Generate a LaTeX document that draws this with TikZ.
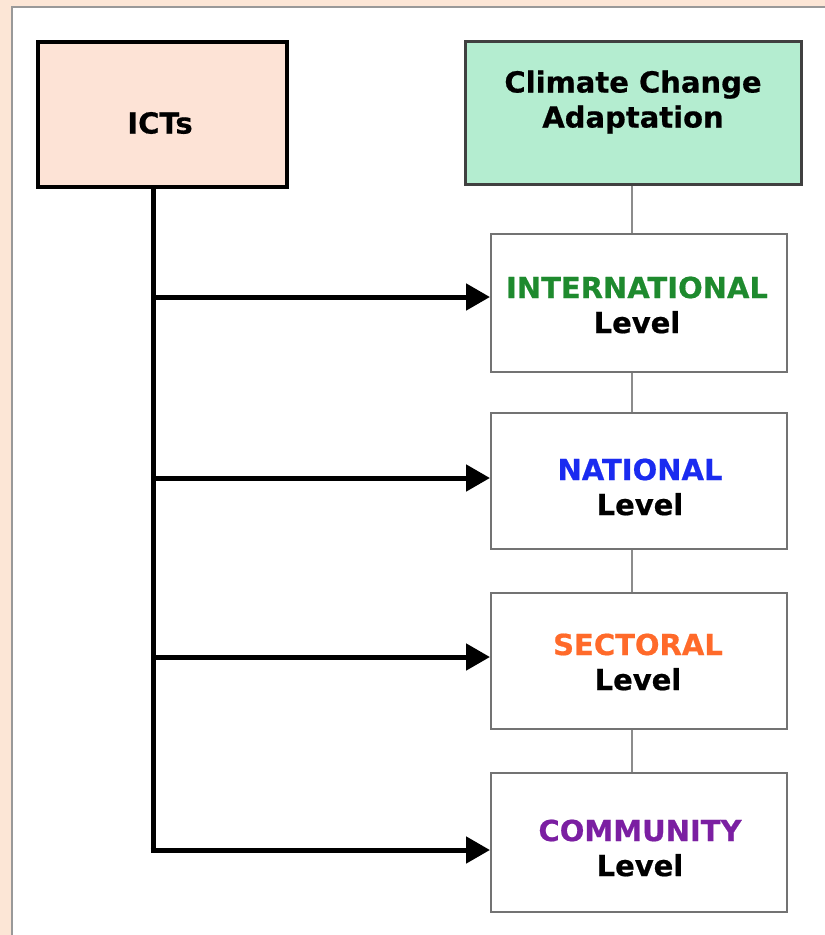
\documentclass[tikz,border=0pt]{standalone}
\usepackage{fontspec}
\setmainfont{DejaVu Sans}[FakeBold=0.6]
\usetikzlibrary{arrows.meta}
\definecolor{peach}{HTML}{FCE6D6}
\definecolor{ictfill}{HTML}{FDE3D6}
\definecolor{ccafill}{HTML}{B4EDD0}
\definecolor{intgreen}{HTML}{1E8A2E}
\definecolor{natblue}{HTML}{1A2BF0}
\definecolor{secorange}{HTML}{FF6A2A}
\definecolor{compurple}{HTML}{7B1FA2}
\tikzset{
  txt/.style={font=\fontsize{29}{35}\selectfont\bfseries, align=center, inner sep=0pt},
  levelbox/.style={draw=black!55, line width=2.2pt, fill=white, minimum width=296pt, minimum height=138pt, inner sep=0pt, anchor=north west},
  feed/.style={line width=5pt, -{Triangle[length=24pt,width=26pt]}},
  link/.style={draw=black!45, line width=2.2pt},
}
\begin{document}
\begin{tikzpicture}[x=1pt,y=-1pt]
\useasboundingbox (0,0) rectangle (825,935);
\fill[peach] (0,0) rectangle (825,935);
\begin{scope}
\clip (0,0) rectangle (825,935);
\draw[black!40, line width=2.5pt, fill=white] (12,7) rectangle (840,950);
\end{scope}
% top boxes
\node[draw=black, line width=3.5pt, fill=ictfill, minimum width=249pt, minimum height=145pt, anchor=north west, inner sep=0pt] (ict) at (36,40) {};
\node[txt] (ictt) at (160,123) {ICTs};
\node[draw=black!75, line width=2.5pt, fill=ccafill, minimum width=336pt, minimum height=143pt, anchor=north west, inner sep=0pt] (cca) at (464,40) {};
\node[txt] (ccat) at (633,102) {Climate Change\\Adaptation};
% level boxes
\node[levelbox] (l1) at (490,233) {};
\node[levelbox, minimum height=136pt] (l2) at (490,412) {};
\node[levelbox, minimum height=136pt] (l3) at (490,592) {};
\node[levelbox, minimum height=139pt] (l4) at (490,772) {};
\node[txt] (t1) at (637,305) {\textcolor{intgreen}{INTERNATIONAL}\\Level};
\node[txt] (t2) at (640,487) {\textcolor{natblue}{NATIONAL}\\Level};
\node[txt] (t3) at (638,662) {\textcolor{secorange}{SECTORAL}\\Level};
\node[txt] (t4) at (640,848) {\textcolor{compurple}{COMMUNITY}\\Level};
% gray links
\draw[link] (cca.south -| 632,0) -- (l1.north -| 632,0);
\draw[link] (l1.south -| 632,0) -- (l2.north -| 632,0);
\draw[link] (l2.south -| 632,0) -- (l3.north -| 632,0);
\draw[link] (l3.south -| 632,0) -- (l4.north -| 632,0);
% black feed lines
\coordinate (top) at (153,185);
\coordinate (b1) at (153,297);
\coordinate (b2) at (153,478);
\coordinate (b3) at (153,657);
\coordinate (b4) at (153,850);
\draw[line width=5pt] (top) -- (153,852.5);
\draw[feed] (b1) -- (b1 -| l1.west);
\draw[feed] (b2) -- (b2 -| l2.west);
\draw[feed] (b3) -- (b3 -| l3.west);
\draw[feed] ([xshift=-2.5pt]b4) -- (b4 -| l4.west);
\end{tikzpicture}
\end{document}
